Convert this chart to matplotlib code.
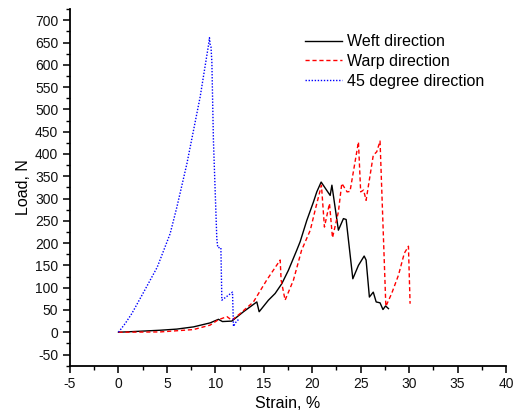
import matplotlib
matplotlib.use("Agg")
import matplotlib.pyplot as plt
from matplotlib.ticker import MultipleLocator

plt.rcParams['font.family'] = ['Liberation Sans', 'DejaVu Sans']
plt.rcParams['axes.unicode_minus'] = False

weft_x = [0, 2, 4.3, 6, 7.74, 9.46, 10.32, 10.73, 11.7, 12.04, 12.9, 14.28, 14.52, 15.48,
          16.17, 16.86, 17.54, 18.4, 18.75, 19.44, 20.12, 20.47, 20.92, 21.85, 22.03, 22.7,
          23.22, 23.5, 24.19, 24.77, 25.36, 25.56, 25.9, 26.3, 26.6, 27.0, 27.3, 27.57, 27.87]
weft_y = [0, 2, 4.5, 7, 12, 21, 29, 24, 25, 31, 46, 68, 46, 72,
          87, 109, 139, 184, 203, 251, 292, 315, 337, 307, 330, 229,
          255, 253, 120, 150, 171, 162, 79, 90, 68, 66, 51, 59, 53]

warp_x = [0, 4.3, 7.74, 9.46, 10.3, 11.2, 11.7, 12.56, 13.93, 15.3, 16.69, 16.79, 17.2,
          18.06, 18.9, 19.8, 20.3, 20.95, 21.26, 21.78, 22.09, 22.7, 23.05, 23.6, 23.9,
          24.77, 25.0, 25.3, 25.56, 26.3, 26.66, 27.0, 27.6, 28.2, 28.9, 29.5, 29.93, 30.1]
warp_y = [0, 0.7, 6, 16, 28, 35, 27, 42, 68, 117, 162, 117, 72,
          117, 184, 229, 274, 330, 236, 289, 212, 270, 334, 315, 316,
          427, 315, 319, 296, 397, 405, 429, 58, 87, 128, 177, 193, 64]

deg45_x = [0, 0.69, 1.38, 2.6, 4.0, 5.33, 6.03, 7.06, 8.43, 9.29, 9.39, 9.47, 9.55, 9.64,
           9.8, 10.15, 10.25, 10.57, 10.67, 11.77, 11.87, 12.1, 12.49]
deg45_y = [0, 19.5, 42, 90, 146, 221, 281, 378, 528, 644, 661, 645, 640, 606,
           431, 210, 190, 190, 72, 90, 13, 22, 31]

fig = plt.figure(figsize=(5.15, 4.16), dpi=100)
ax = fig.add_axes([0.136, 0.121, 0.8465, 0.857])

ax.plot(weft_x, weft_y, color='black', lw=1.0, ls='-', label='Weft direction')
ax.plot(warp_x, warp_y, color='red', lw=1.0, ls=(0, (3, 2)), label='Warp direction')
ax.plot(deg45_x, deg45_y, color='blue', lw=1.0, ls=(0, (1, 1.2)), label='45 degree direction')

ax.set_xlim(-5, 40)
ax.set_ylim(-75, 725)
ax.xaxis.set_major_locator(MultipleLocator(5))
ax.xaxis.set_minor_locator(MultipleLocator(2.5))
ax.yaxis.set_major_locator(MultipleLocator(50))
ax.yaxis.set_minor_locator(MultipleLocator(25))
ax.set_yticks(range(-50, 701, 50))

for s in ['top', 'right']:
    ax.spines[s].set_visible(False)
for s in ['left', 'bottom']:
    ax.spines[s].set_linewidth(1.3)
ax.tick_params(which='major', direction='out', length=5, width=1.2, labelsize=10, colors='#111111')
ax.tick_params(which='minor', direction='out', length=3, width=1.0)

ax.set_xlabel('Strain, %', fontsize=11.5, labelpad=3)
ax.set_ylabel('Load, N', fontsize=11.5, labelpad=3)

leg = ax.legend(loc='upper left', bbox_to_anchor=(0.539, 0.930), frameon=False, fontsize=11.5,
                handlelength=2.3, handletextpad=0.3, labelspacing=0.3, borderaxespad=0,
                borderpad=0)

fig.savefig('out.png', dpi=100)
